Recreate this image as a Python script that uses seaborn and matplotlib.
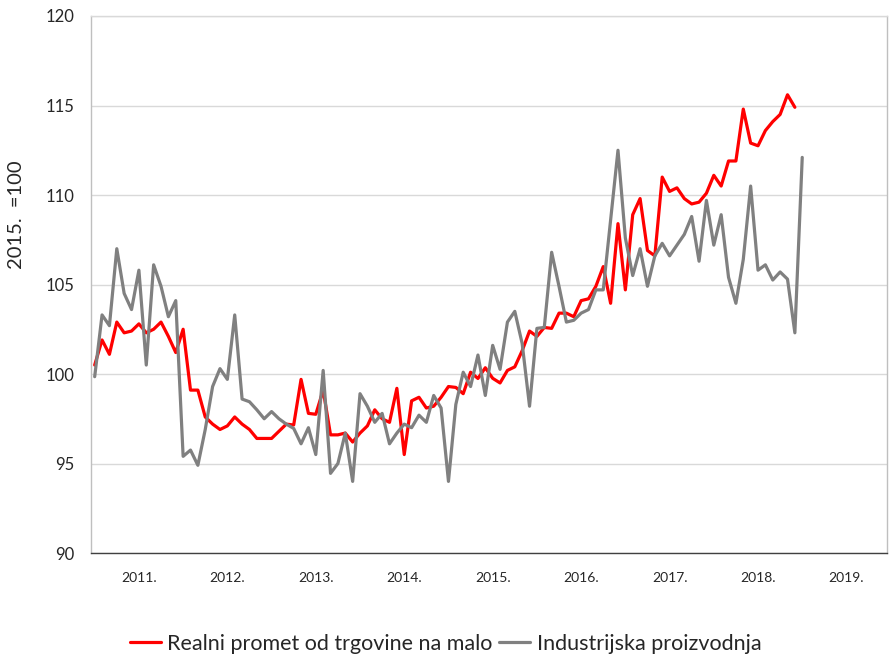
import pandas as pd
import numpy as np
import seaborn as sns
import matplotlib.pyplot as plt

# monthly index values, 2015 = 100, starting Jan 2011
realni_promet = [
    100.5, 101.9, 101.1, 102.9, 102.3, 102.4, 102.8, 102.3, 102.5, 102.9, 102.1, 101.2,
    102.5, 99.1, 99.1, 97.6, 97.2, 96.9, 97.1, 97.6, 97.2, 96.9, 96.4, 96.4,
    96.4, 96.8, 97.2, 97.15, 99.7, 97.8, 97.75, 99.1, 96.6, 96.6, 96.7, 96.2,
    96.7, 97.1, 98.0, 97.5, 97.3, 99.2, 95.5, 98.5, 98.7, 98.1, 98.2, 98.7,
    99.3, 99.25, 98.9, 100.1, 99.75, 100.35, 99.76, 99.5, 100.2, 100.4, 101.3, 102.4,
    102.1, 102.6, 102.55, 103.4, 103.4, 103.2, 104.1, 104.2, 104.9, 106.0, 103.95, 108.4,
    104.7, 108.9, 109.8, 106.9, 106.6, 111.0, 110.2, 110.4, 109.8, 109.5, 109.6, 110.1,
    111.1, 110.5, 111.9, 111.9, 114.8, 112.9, 112.75, 113.6, 114.1, 114.5, 115.6, 114.9,
]
industrija = [
    99.85, 103.3, 102.7, 107.0, 104.5, 103.6, 105.8, 100.5, 106.1, 104.9, 103.2, 104.1,
    95.4, 95.75, 94.9, 96.9, 99.3, 100.3, 99.7, 103.3, 98.6, 98.45, 98.0, 97.5,
    97.9, 97.5, 97.2, 96.96, 96.1, 97.0, 95.5, 100.2, 94.45, 95.0, 96.7, 94.0,
    98.9, 98.2, 97.3, 97.8, 96.1, 96.7, 97.2, 97.0, 97.7, 97.3, 98.8, 98.1,
    94.0, 98.3, 100.1, 99.3, 101.06, 98.8, 101.6, 100.26, 102.9, 103.5, 101.7, 98.2,
    102.55, 102.6, 106.8, 104.9, 102.9, 103.0, 103.4, 103.6, 104.7, 104.7, 108.6, 112.5,
    107.6, 105.5, 107.0, 104.9, 106.6, 107.3, 106.6, 107.2, 107.8, 108.8, 106.3, 109.7,
    107.2, 108.9, 105.4, 103.95, 106.4, 110.5, 105.8, 106.1, 105.25, 105.7, 105.3, 102.3,
    112.1,
]
years = ['2011.', '2012.', '2013.', '2014.', '2015.', '2016.', '2017.', '2018.', '2019.']
names = ['Realni promet od trgovine na malo', 'Industrijska proizvodnja']

df = pd.concat([
    pd.DataFrame({'mjesec': np.arange(len(realni_promet)), 'indeks': realni_promet, 'serija': names[0]}),
    pd.DataFrame({'mjesec': np.arange(len(industrija)), 'indeks': industrija, 'serija': names[1]}),
])

sns.set_theme(style='white')
plt.rcParams['font.family'] = ['Lato', 'DejaVu Sans']

fig = plt.figure(figsize=(8.91, 6.57), dpi=100)
ax = fig.add_axes([91 / 891, 104 / 657, 796 / 891, 537 / 657])

sns.lineplot(data=df, x='mjesec', y='indeks', hue='serija', hue_order=names,
             palette={names[0]: '#ff0000', names[1]: '#808080'},
             linewidth=2.3, ax=ax)

ax.set_xlim(-0.5, 12 * len(years) - 0.5)
ax.set_ylim(90, 120)
ax.set_yticks(np.arange(90, 121, 5))
ax.set_xticks([12 * k + 6 for k in range(len(years))])
ax.set_xticklabels(years)
ax.tick_params(axis='x', length=0, pad=14, labelsize=10, labelcolor='#262626')
ax.tick_params(axis='y', length=6, width=1, color='#bfbfbf', pad=6, labelsize=12, labelcolor='#262626')
ax.yaxis.grid(True, color='#d9d9d9', linewidth=1)
ax.set_axisbelow(True)

ax.spines['left'].set_color('#bfbfbf')
ax.spines['right'].set_color('#bfbfbf')
ax.spines['top'].set_color('#d9d9d9')
ax.spines['bottom'].set_color('#404040')
for s in ax.spines.values():
    s.set_linewidth(1)

ax.set_xlabel('')
ax.set_ylabel('2015.  =100', fontsize=14.5, color='#262626')
ax.yaxis.set_label_coords(-0.083, 0.63)

ax.legend(loc='center', bbox_to_anchor=(0.5, 0.02), bbox_transform=fig.transFigure,
          ncol=2, frameon=False, fontsize=15.5, handlelength=1.45, columnspacing=0.3,
          handletextpad=0.3, labelcolor='#262626')

fig.savefig('out.png', dpi=100)
